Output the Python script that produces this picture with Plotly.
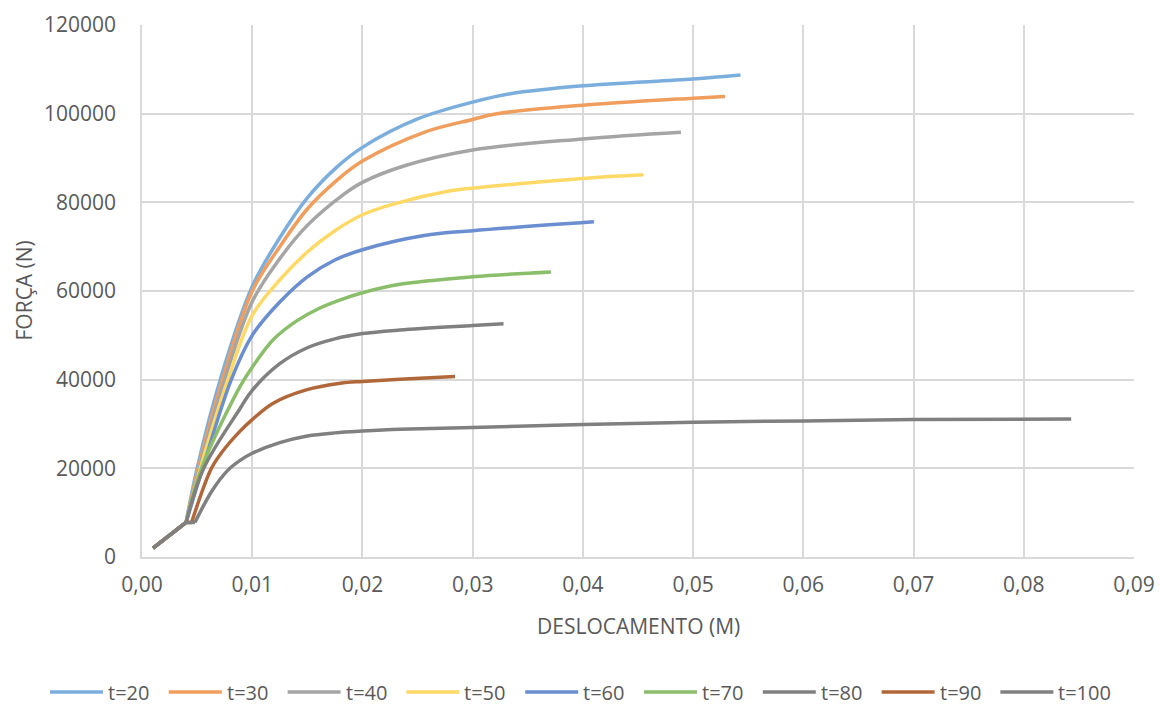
import plotly.graph_objects as go

# Force-displacement curves, one per value of t
series_names = ["t=20", "t=30", "t=40", "t=50", "t=60", "t=70", "t=80", "t=90", "t=100"]

x_t20 = [0.001, 0.004, 0.0050, 0.0071, 0.01, 0.0125, 0.015, 0.0177, 0.02, 0.025, 0.03, 0.0334, 0.04, 0.05, 0.0543]
y_t20 = [2000, 7800, 20000, 40000, 61000, 72000, 81000, 88000, 92400, 98800, 102600, 104500, 106300, 107800, 108700]

x_t30 = [0.001, 0.004, 0.0051, 0.0073, 0.01, 0.0125, 0.015, 0.0177, 0.02, 0.0256, 0.03, 0.0322, 0.04, 0.05, 0.0529]
y_t30 = [2000, 7800, 20000, 40000, 60000, 70000, 78500, 85000, 89300, 95800, 98700, 100000, 101900, 103500, 103900]

x_t40 = [0.001, 0.004, 0.0052, 0.0075, 0.01, 0.0125, 0.015, 0.0183, 0.02, 0.0239, 0.03, 0.04, 0.0489]
y_t40 = [2000, 7800, 20000, 40000, 57600, 67300, 74800, 81800, 84500, 88300, 91800, 94300, 95800]

x_t50 = [0.001, 0.004, 0.0053, 0.0078, 0.01, 0.0125, 0.015, 0.0175, 0.02, 0.0228, 0.028, 0.03, 0.04, 0.0455]
y_t50 = [2000, 7800, 20000, 40000, 54500, 62500, 68800, 73600, 77200, 79600, 82600, 83200, 85400, 86200]

x_t60 = [0.001, 0.004, 0.0055, 0.0081, 0.01, 0.0125, 0.015, 0.0175, 0.02, 0.0256, 0.03, 0.041]
y_t60 = [2000, 7800, 20000, 40000, 50000, 57500, 63200, 67000, 69300, 72500, 73600, 75600]

x_t70 = [0.001, 0.004, 0.0054, 0.0089, 0.01, 0.0119, 0.014, 0.016, 0.018, 0.02, 0.0234, 0.03, 0.0371]
y_t70 = [2000, 7800, 20000, 38500, 42800, 49000, 53200, 56000, 58000, 59600, 61500, 63200, 64300]

x_t80 = [0.001, 0.004, 0.0056, 0.0089, 0.01, 0.0125, 0.015, 0.0175, 0.02, 0.0234, 0.03, 0.0328]
y_t80 = [2000, 7800, 20000, 33500, 37600, 43600, 47200, 49200, 50400, 51200, 52200, 52600]

x_t90 = [0.001, 0.004, 0.0045, 0.0063, 0.0073, 0.0089, 0.01, 0.0119, 0.0149, 0.018, 0.02, 0.0234, 0.0284]
y_t90 = [2000, 7800, 7800, 20000, 23800, 28400, 31000, 34700, 37700, 39200, 39600, 40100, 40700]

x_t100 = [0.001, 0.004, 0.0048, 0.0064, 0.0078, 0.0089, 0.01, 0.0125, 0.015, 0.0175, 0.02, 0.0234, 0.03, 0.04, 0.05, 0.06, 0.07, 0.0843]
y_t100 = [2000, 7800, 7800, 15100, 19600, 21800, 23400, 25800, 27300, 28000, 28400, 28800, 29200, 29900, 30400, 30700, 31000, 31100]

x_data = [x_t20, x_t30, x_t40, x_t50, x_t60, x_t70, x_t80, x_t90, x_t100]
y_data = [y_t20, y_t30, y_t40, y_t50, y_t60, y_t70, y_t80, y_t90, y_t100]

# index of the point where the elastic branch ends and the curved branch begins
yield_index = [1, 1, 1, 1, 1, 1, 1, 2, 2]

colors = ["#7BAEDD", "#F09E5E", "#A5A5A5", "#FFD966", "#6A8ED0",
          "#8BBE6A", "#808080", "#B0683A", "#808080"]

FONT = "Open Sans"
TXT = "#595959"
GRID = "#D9D9D9"
LW = 3.5

# plot area in pixels
W, H = 1160, 706
L, R, T, B = 142, 26, 25, 149
PW, PH = W - L - R, H - T - B


def px_x(px):
    return (px - L) / PW


def px_y(py):
    return (H - B - py) / PH


fig = go.Figure()
for name, xs, ys, k, c in zip(series_names, x_data, y_data, yield_index, colors):
    # straight initial branch up to the kink
    fig.add_trace(go.Scatter(
        x=xs[:k + 1], y=ys[:k + 1], name=name, mode="lines", showlegend=False,
        legendgroup=name, line=dict(color=c, width=LW, shape="linear"),
    ))
    # smooth curved branch from the kink onward
    fig.add_trace(go.Scatter(
        x=xs[k:], y=ys[k:], name=name, mode="lines", showlegend=False,
        legendgroup=name, line=dict(color=c, width=LW, shape="spline", smoothing=1.0),
    ))

# legend row along the bottom
leg_y = px_y(692)
for i, (name, c) in enumerate(zip(series_names, colors)):
    x0 = 50 + 118.8 * i
    fig.add_shape(type="line", xref="paper", yref="paper",
                  x0=px_x(x0), x1=px_x(x0 + 53), y0=leg_y, y1=leg_y,
                  line=dict(color=c, width=LW))
    fig.add_annotation(text=name, xref="paper", yref="paper",
                       x=px_x(x0 + 56), y=leg_y, xanchor="left", yanchor="middle",
                       showarrow=False, font=dict(family=FONT, size=20, color=TXT))

# axis titles
fig.add_annotation(text="DESLOCAMENTO (M)", xref="paper", yref="paper",
                   x=0.5, y=px_y(626), xanchor="center", yanchor="middle",
                   showarrow=False, font=dict(family=FONT, size=21, color=TXT))
fig.add_annotation(text="FORÇA (N)", xref="paper", yref="paper",
                   x=px_x(23.5), y=0.5, xanchor="center", yanchor="middle", textangle=-90,
                   showarrow=False, font=dict(family=FONT, size=21, color=TXT))

fig.update_layout(
    width=W, height=H,
    margin=dict(l=L, r=R, t=T, b=B),
    paper_bgcolor="white", plot_bgcolor="white",
    separators=",.",
    font=dict(family=FONT, color=TXT, size=21),
    showlegend=False,
)

fig.update_xaxes(
    range=[0, 0.09], dtick=0.01, tick0=0, tickformat=".2f",
    showgrid=True, gridcolor=GRID, gridwidth=1.5,
    showline=True, linecolor=GRID, linewidth=1.5,
    zeroline=False, ticks="", ticklabelstandoff=8, automargin=False,
    tickfont=dict(family=FONT, size=21, color=TXT),
)
fig.update_yaxes(
    range=[0, 120000], dtick=20000, tick0=0, tickformat="d",
    showgrid=True, gridcolor=GRID, gridwidth=1.5,
    showline=True, linecolor=GRID, linewidth=1.5,
    zeroline=False, ticks="", ticklabelstandoff=20, automargin=False,
    tickfont=dict(family=FONT, size=21, color=TXT),
)

fig.write_html("out.html")
